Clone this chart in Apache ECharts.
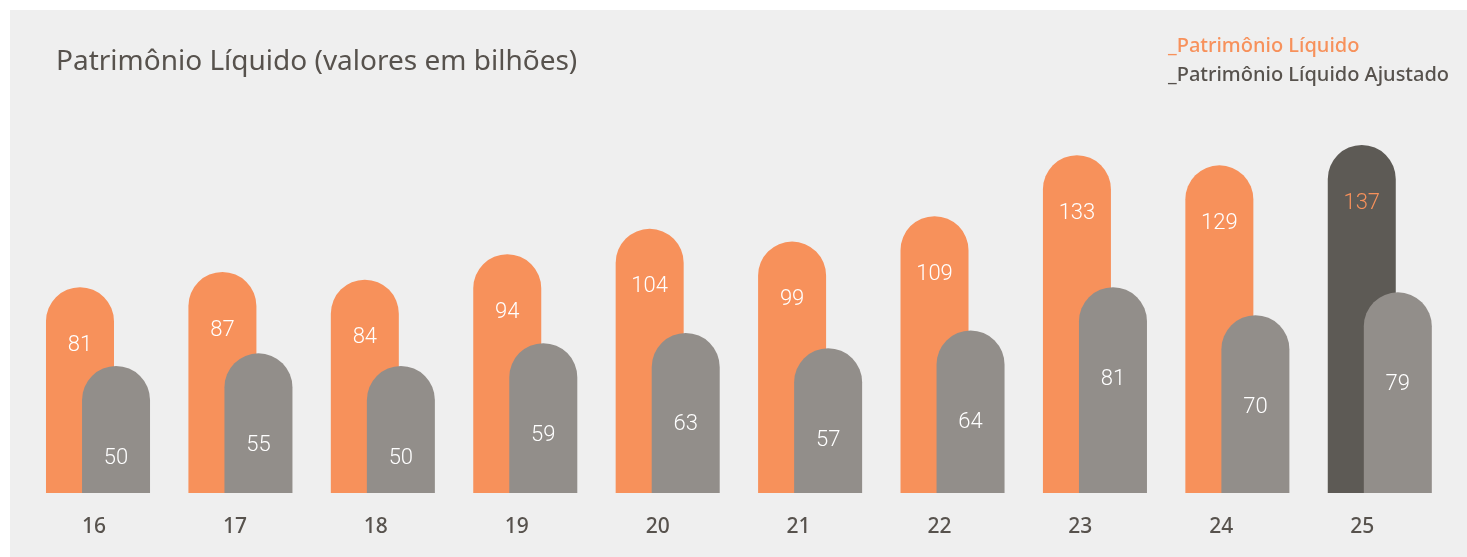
<!DOCTYPE html>
<html>
<head>
<meta charset="utf-8">
<script src="https://cdn.jsdelivr.net/npm/echarts@6/dist/echarts.min.js"></script>
<style>
  html, body { margin: 0; padding: 0; background: #fff; }
  #chart { width: 1467px; height: 557px; }
</style>
</head>
<body>
<div id="chart"></div>
<script>
// dados (valores em bilhões)
var anos = ["16", "17", "18", "19", "20", "21", "22", "23", "24", "25"];
var plValores = [81, 87, 84, 94, 104, 99, 109, 133, 129, 137];
var plAjustadoValores = [50, 55, 50, 59, 63, 57, 64, 81, 70, 79];

var LARANJA = "#f7915b";
var CINZA = "#928e8a";
var ESCURO = "#5d5a55";
var TEXTO = "#57524d";

var chart = echarts.init(document.getElementById("chart"));

// o último ano aparece destacado em cinza escuro com rótulo laranja
var plData = plValores.map(function (v, i) {
  if (i === plValores.length - 1) {
    return { value: v, itemStyle: { color: ESCURO }, label: { color: LARANJA } };
  }
  return v;
});

var option = {
  animation: false,
  graphic: [{
    type: "rect",
    left: 10, top: 10,
    shape: { width: 1457, height: 547 },
    style: { fill: "#efefef" },
    z: -10
  }],
  title: {
    text: "Patrimônio Líquido (valores em bilhões)",
    left: 51,
    top: 43,
    textStyle: { fontFamily: "Noto Sans", fontSize: 28, fontWeight: 400, color: TEXTO }
  },
  legend: {
    orient: "vertical",
    left: 1158,
    top: 31,
    icon: "none",
    itemWidth: 0,
    itemHeight: 20,
    itemGap: 9,
    selectedMode: false,
    textStyle: { fontFamily: "Noto Sans", fontSize: 20, fontWeight: 500 },
    data: [
      { name: "_Patrimônio Líquido", textStyle: { color: LARANJA } },
      { name: "_Patrimônio Líquido Ajustado", textStyle: { color: TEXTO } }
    ]
  },
  grid: [
    { left: 26.8, right: 16, top: 112, bottom: 64 },
    // grade só para os rótulos dos anos (levemente deslocados no original)
    { left: 23.6, right: 34.4, top: 112, bottom: 64 }
  ],
  xAxis: [
    {
      type: "category", gridIndex: 0, data: anos,
      axisLine: { show: false }, axisTick: { show: false }, axisLabel: { show: false }
    },
    {
      type: "category", gridIndex: 1, data: anos,
      axisLine: { show: false }, axisTick: { show: false },
      axisLabel: {
        margin: 24,
        fontFamily: "Noto Sans", fontSize: 21, fontWeight: 500, color: TEXTO
      }
    }
  ],
  yAxis: [
    { type: "value", gridIndex: 0, min: 0, max: 150, show: false },
    { type: "value", gridIndex: 1, min: 0, max: 150, show: false }
  ],
  series: [
    {
      name: "_Patrimônio Líquido",
      type: "bar",
      data: plData,
      barWidth: 68,
      barGap: "-47%",
      itemStyle: { color: LARANJA, borderRadius: [34, 34, 0, 0] },
      label: {
        show: true, position: "insideTop", distance: 47,
        fontFamily: "Roboto", fontWeight: 300, fontSize: 22, color: "#fff"
      }
    },
    {
      name: "_Patrimônio Líquido Ajustado",
      type: "bar",
      data: plAjustadoValores,
      barWidth: 68,
      itemStyle: { color: CINZA, borderRadius: [34, 34, 0, 0] },
      label: {
        show: true, position: "insideTop", distance: 81,
        fontFamily: "Roboto", fontWeight: 300, fontSize: 22, color: "#fff"
      }
    }
  ]
};

chart.setOption(option);
</script>
</body>
</html>
